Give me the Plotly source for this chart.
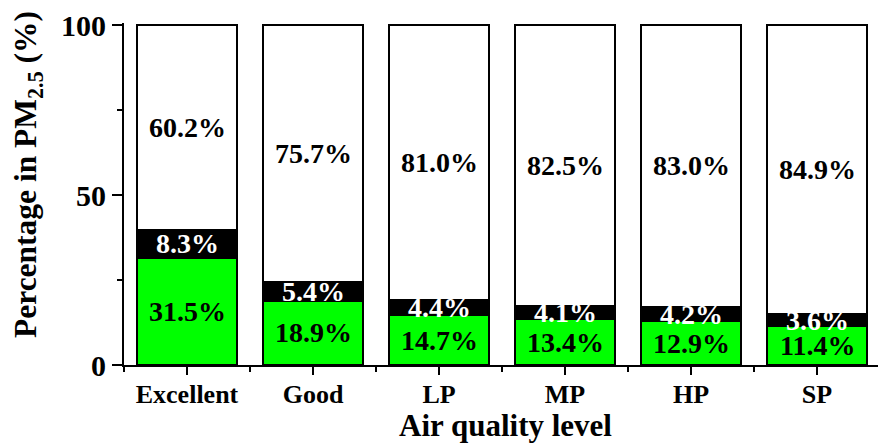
import plotly.graph_objects as go

# Share of each component in PM2.5 by air quality level
categories = ["Excellent", "Good", "LP", "MP", "HP", "SP"]
green_share = [31.5, 18.9, 14.7, 13.4, 12.9, 11.4]
black_share = [8.3, 5.4, 4.4, 4.1, 4.2, 3.6]
white_share = [60.2, 75.7, 81.0, 82.5, 83.0, 84.9]
y_ticks = [0, 50, 100]

FONT = "Liberation Serif, Times New Roman, serif"
positions = list(range(len(categories)))

fig = go.Figure()
series = [
    (green_share, "#00ff00", "black"),
    (black_share, "#000000", "white"),
    (white_share, "#ffffff", "black"),
]
for values, fill, _ in series:
    fig.add_bar(
        x=positions, y=values, marker=dict(color=fill, line=dict(color="black", width=2)),
        width=0.8, showlegend=False, hoverinfo="skip",
    )

# Percentage labels centred in each stacked segment
annotations = []
base = [0.0] * len(categories)
for values, _, txt_color in series:
    for i, v in enumerate(values):
        annotations.append(dict(
            x=positions[i], y=base[i] + v / 2, xref="x", yref="y",
            text=f"{v:.1f}%", showarrow=False,
            font=dict(family=FONT, size=28, color=txt_color, weight="bold"),
        ))
        base[i] += v

plot_top, plot_bottom, plot_left, plot_right = 23, 365, 124, 878
ph = plot_bottom - plot_top
pw = plot_right - plot_left

annotations.append(dict(
    text="Percentage in PM<sub>2.5</sub> (%)", textangle=-90, showarrow=False,
    xref="paper", yref="paper", x=(28 - plot_left) / pw, y=(plot_bottom - 175) / ph,
    xanchor="center", yanchor="middle",
    font=dict(family=FONT, size=31.5, color="black", weight="bold"),
))
annotations.append(dict(
    text="Air quality level", showarrow=False,
    xref="paper", yref="paper", x=(505 - plot_left) / pw, y=(plot_bottom - 425) / ph,
    xanchor="center", yanchor="middle",
    font=dict(family=FONT, size=31, color="black", weight="bold"),
))

fig.update_layout(
    width=878, height=445,
    margin=dict(l=plot_left, r=0, t=plot_top, b=445 - plot_bottom),
    barmode="stack",
    plot_bgcolor="white", paper_bgcolor="white",
    annotations=annotations,
    xaxis=dict(
        range=[-0.5, -0.5 + pw / 126.0],
        tickvals=positions, ticktext=categories,
        showline=True, linecolor="black", linewidth=2,
        ticks="outside", ticklen=8, tickwidth=2, tickcolor="black",
        ticklabelstandoff=-3,
        minor=dict(ticks="outside", ticklen=5, tickwidth=2, tickcolor="black",
                   tickvals=[p + 0.5 for p in [-1] + positions]),
        showgrid=False, zeroline=False,
        tickfont=dict(family=FONT, size=26, color="black", weight="bold"),
    ),
    yaxis=dict(
        range=[0, 100.6],
        tickvals=y_ticks,
        showline=True, linecolor="black", linewidth=2,
        ticks="outside", ticklen=10, tickwidth=2, tickcolor="black",
        minor=dict(ticks="outside", ticklen=5, tickwidth=2, tickcolor="black",
                   tickvals=[25, 75]),
        showgrid=False, zeroline=False,
        tickfont=dict(family=FONT, size=30, color="black", weight="bold"),
    ),
)

fig.write_html("out.html")
